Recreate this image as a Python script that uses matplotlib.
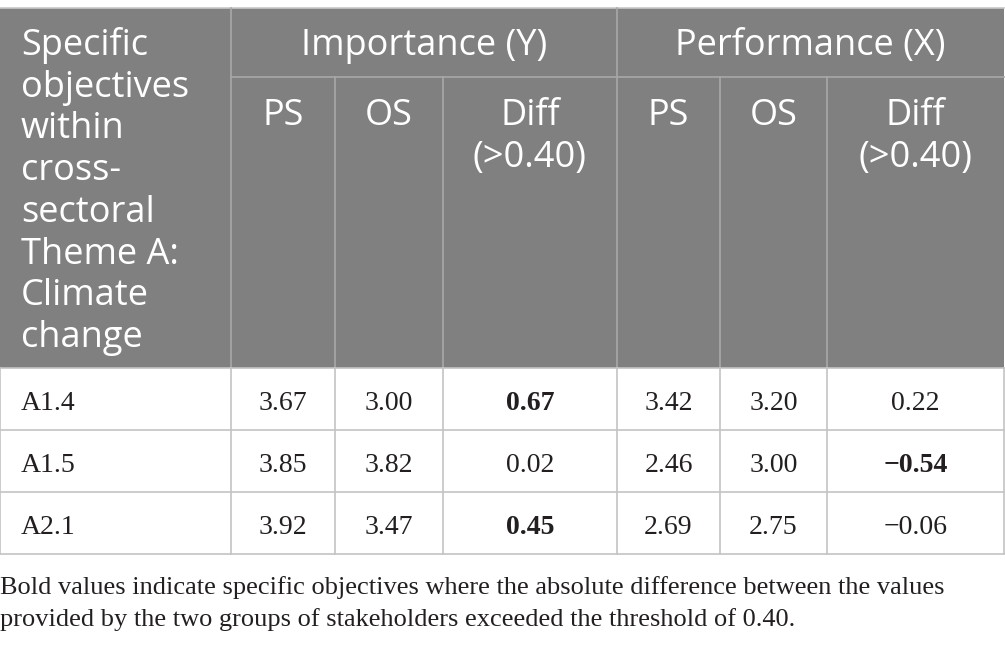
import matplotlib
matplotlib.use("Agg")
import matplotlib.pyplot as plt
from matplotlib.patches import Rectangle

# ---------------- data ----------------
first_header = ["Specific", "objectives", "within", "cross-", "sectoral", "Theme A:", "Climate", "change"]
group_headers = ["Importance (Y)", "Performance (X)"]
sub_headers = [["PS"], ["OS"], ["Diff", "(>0.40)"], ["PS"], ["OS"], ["Diff", "(>0.40)"]]
objectives = ["A1.4", "A1.5", "A2.1"]
imp_ps = ["3.67", "3.85", "3.92"]
imp_os = ["3.00", "3.82", "3.47"]
imp_diff = ["0.67", "0.02", "0.45"]
perf_ps = ["3.42", "2.46", "2.69"]
perf_os = ["3.20", "3.00", "2.75"]
perf_diff = ["0.22", "\u22120.54", "\u22120.06"]
bold_imp = [True, False, True]
bold_perf = [False, True, False]
caption = ["Bold values indicate specific objectives where the absolute difference between the values",
           "provided by the two groups of stakeholders exceeded the threshold of 0.40."]

# ---------------- layout (pixels) ----------------
W, H = 1005, 648
col_edges = [0, 231, 335, 443, 617, 720, 827, 1004]
top, group_bottom, head_bottom = 8, 77, 368
row_h = 62
header_gray = "#808080"
head_line = "#a8a8a8"
grid = "#c4c4c4"
sans = ["Open Sans", "DejaVu Sans"]
serif = ["Liberation Serif", "DejaVu Serif"]

fig = plt.figure(figsize=(W / 100, H / 100), dpi=100)
ax = fig.add_axes([0, 0, 1, 1])
ax.set_xlim(0, W)
ax.set_ylim(H, 0)
ax.axis("off")

# header background
ax.add_patch(Rectangle((col_edges[0], top), col_edges[-1] - col_edges[0], head_bottom - top,
                       facecolor=header_gray, edgecolor="none"))
# header lines
ax.plot([col_edges[0], col_edges[-1]], [top, top], color="#c8c8c8", lw=1.2)
ax.plot([col_edges[1], col_edges[-1]], [group_bottom, group_bottom], color=head_line, lw=1.2)
ax.plot([col_edges[1], col_edges[1]], [top, head_bottom], color=head_line, lw=1.2)
ax.plot([col_edges[4], col_edges[4]], [top, head_bottom], color=head_line, lw=1.2)
for c in [2, 3, 5, 6]:
    ax.plot([col_edges[c], col_edges[c]], [group_bottom, head_bottom], color=head_line, lw=1.2)

hs = 26
hw = "normal"
line_sp = 41.7
for i, t in enumerate(first_header):
    ax.text(21, 55 + i * line_sp, t, color="white", fontsize=hs, family=sans, fontweight=hw,
            ha="left", va="baseline")

for g, t in enumerate(group_headers):
    x0, x1 = col_edges[1 + 3 * g], col_edges[4 + 3 * g]
    ax.text((x0 + x1) / 2, 55, t, color="white", fontsize=hs, family=sans, fontweight=hw,
            ha="center", va="baseline")

for c, lines in enumerate(sub_headers):
    xc = (col_edges[c + 1] + col_edges[c + 2]) / 2
    for j, t in enumerate(lines):
        ax.text(xc, 125 + j * line_sp, t, color="white", fontsize=hs, family=sans, fontweight=hw,
                ha="center", va="baseline")

# body
n = len(objectives)
body_bottom = head_bottom + n * row_h
for r in range(n + 1):
    y = head_bottom + r * row_h
    ax.plot([col_edges[0], col_edges[-1]], [y, y], color=grid, lw=1.2)
for x in col_edges:
    ax.plot([x, x], [head_bottom, body_bottom], color=grid, lw=1.2)

cols = [imp_ps, imp_os, imp_diff, perf_ps, perf_os, perf_diff]
bolds = [None, None, bold_imp, None, None, bold_perf]
ds = 20
tc = "#231f20"
for r in range(n):
    yb = head_bottom + r * row_h + 42
    ax.text(21, yb, objectives[r], fontsize=ds, family=serif, color=tc, ha="left", va="baseline")
    for c, vals in enumerate(cols):
        xc = (col_edges[c + 1] + col_edges[c + 2]) / 2
        b = bolds[c][r] if bolds[c] is not None else False
        ax.text(xc, yb, vals[r], fontsize=ds, family=serif, color=tc, ha="center", va="baseline",
                fontweight="bold" if b else "normal")

for i, t in enumerate(caption):
    ax.text(0, 594 + i * 32, t, fontsize=19, family=serif, color=tc, ha="left", va="baseline")

fig.savefig("out.png", dpi=100)
